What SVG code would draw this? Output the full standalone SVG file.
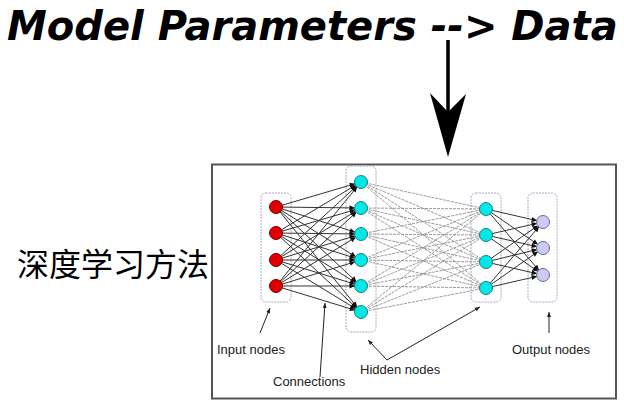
<svg xmlns="http://www.w3.org/2000/svg" width="624" height="416" viewBox="0 0 624 416">
<defs>
<style>
.title{font-family:"DejaVu Sans",sans-serif;font-weight:bold;font-style:italic;font-size:40px;fill:#000}
.cjk{font-family:"Noto Sans CJK SC","Noto Sans",sans-serif;font-size:32px;fill:#000}
.lbl{font-family:"Liberation Sans","Open Sans",sans-serif;font-size:13px;fill:#222}
.box{fill:none;stroke:#a8a8c8;stroke-width:1;stroke-dasharray:2 1}
.dark{stroke:#333;stroke-width:1}
.light{stroke:#8f8f8f;stroke-width:0.9;stroke-dasharray:3 1}
.inp{fill:#e00000;stroke:#7a0000;stroke-width:1}
.hid{fill:#00e8e8;stroke:#208080;stroke-width:1}
.out{fill:#ccccf2;stroke:#6a6a9a;stroke-width:1}
.ann{stroke:#222;stroke-width:1;fill:none}
</style>
<marker id="ah" markerUnits="userSpaceOnUse" markerWidth="14" markerHeight="8" refX="11.5" refY="2.5" orient="auto" overflow="visible"><path d="M0,0 L5.5,2.5 L0,5 z" fill="#111"/></marker>
<marker id="sm" markerUnits="userSpaceOnUse" markerWidth="8" markerHeight="8" refX="5" refY="2" orient="auto" overflow="visible"><path d="M0,0 L5,2 L0,4 z" fill="#222"/></marker>
<marker id="smr" markerUnits="userSpaceOnUse" markerWidth="8" markerHeight="8" refX="0" refY="2" orient="auto" overflow="visible"><path d="M5,0 L0,2 L5,4 z" fill="#222"/></marker>
</defs>
<rect width="624" height="416" fill="#fff"/>
<g id="title"><text class="title" x="7" y="40">Model Parameters --&gt; Data</text></g>
<g id="big-arrow">
<line x1="448" y1="40" x2="448" y2="112" stroke="#000" stroke-width="3.5"/>
<polygon points="430,93 448,157 466,94 448,112" fill="#000"/>
</g>
<g id="cjk-label"><text class="cjk" x="17" y="276">深度学习方法</text></g>
<g id="frame"><rect x="212" y="164.5" width="404" height="234" fill="#fff" stroke="#555" stroke-width="2"/></g>
<g id="groups">
<rect class="box" x="261" y="193" width="30" height="109" rx="5"/>
<rect class="box" x="346" y="166" width="30" height="166" rx="5"/>
<rect class="box" x="471" y="193" width="30" height="109" rx="5"/>
<rect class="box" x="528" y="193" width="29" height="109" rx="5"/>
</g>
<g id="connectors">
<g class="light">
<line x1="361" y1="182" x2="486" y2="209"/><line x1="361" y1="182" x2="486" y2="235"/><line x1="361" y1="182" x2="486" y2="262"/><line x1="361" y1="182" x2="486" y2="288"/>
<line x1="361" y1="208" x2="486" y2="209"/><line x1="361" y1="208" x2="486" y2="235"/><line x1="361" y1="208" x2="486" y2="262"/><line x1="361" y1="208" x2="486" y2="288"/>
<line x1="361" y1="234" x2="486" y2="209"/><line x1="361" y1="234" x2="486" y2="235"/><line x1="361" y1="234" x2="486" y2="262"/><line x1="361" y1="234" x2="486" y2="288"/>
<line x1="361" y1="260" x2="486" y2="209"/><line x1="361" y1="260" x2="486" y2="235"/><line x1="361" y1="260" x2="486" y2="262"/><line x1="361" y1="260" x2="486" y2="288"/>
<line x1="361" y1="286" x2="486" y2="209"/><line x1="361" y1="286" x2="486" y2="235"/><line x1="361" y1="286" x2="486" y2="262"/><line x1="361" y1="286" x2="486" y2="288"/>
<line x1="361" y1="312" x2="486" y2="209"/><line x1="361" y1="312" x2="486" y2="235"/><line x1="361" y1="312" x2="486" y2="262"/><line x1="361" y1="312" x2="486" y2="288"/>
</g>
<g class="dark" marker-end="url(#ah)">
<line x1="276" y1="207" x2="361" y2="182"/><line x1="276" y1="207" x2="361" y2="208"/><line x1="276" y1="207" x2="361" y2="234"/><line x1="276" y1="207" x2="361" y2="260"/><line x1="276" y1="207" x2="361" y2="286"/><line x1="276" y1="207" x2="361" y2="312"/>
<line x1="276" y1="233" x2="361" y2="182"/><line x1="276" y1="233" x2="361" y2="208"/><line x1="276" y1="233" x2="361" y2="234"/><line x1="276" y1="233" x2="361" y2="260"/><line x1="276" y1="233" x2="361" y2="286"/><line x1="276" y1="233" x2="361" y2="312"/>
<line x1="276" y1="260" x2="361" y2="182"/><line x1="276" y1="260" x2="361" y2="208"/><line x1="276" y1="260" x2="361" y2="234"/><line x1="276" y1="260" x2="361" y2="260"/><line x1="276" y1="260" x2="361" y2="286"/><line x1="276" y1="260" x2="361" y2="312"/>
<line x1="276" y1="286" x2="361" y2="182"/><line x1="276" y1="286" x2="361" y2="208"/><line x1="276" y1="286" x2="361" y2="234"/><line x1="276" y1="286" x2="361" y2="260"/><line x1="276" y1="286" x2="361" y2="286"/><line x1="276" y1="286" x2="361" y2="312"/>
<line x1="486" y1="209" x2="543" y2="222"/><line x1="486" y1="209" x2="543" y2="248"/><line x1="486" y1="209" x2="543" y2="275"/>
<line x1="486" y1="235" x2="543" y2="222"/><line x1="486" y1="235" x2="543" y2="248"/><line x1="486" y1="235" x2="543" y2="275"/>
<line x1="486" y1="262" x2="543" y2="222"/><line x1="486" y1="262" x2="543" y2="248"/><line x1="486" y1="262" x2="543" y2="275"/>
<line x1="486" y1="288" x2="543" y2="222"/><line x1="486" y1="288" x2="543" y2="248"/><line x1="486" y1="288" x2="543" y2="275"/>
</g>
<g class="ann">
<line x1="260" y1="333" x2="270" y2="308" marker-end="url(#sm)"/>
<line x1="320" y1="377" x2="325" y2="303" marker-end="url(#sm)"/>
<polyline points="368,340 387,360 480,307" marker-end="url(#sm)" marker-start="url(#smr)"/>
<line x1="549" y1="333" x2="549" y2="312" marker-end="url(#sm)"/>
</g>
</g>
<g id="input-nodes">
<circle class="inp" cx="276" cy="207" r="6.5"/><circle class="inp" cx="276" cy="233" r="6.5"/><circle class="inp" cx="276" cy="260" r="6.5"/><circle class="inp" cx="276" cy="286" r="6.5"/>
</g>
<g id="hidden-nodes-1">
<circle class="hid" cx="361" cy="182" r="6.5"/><circle class="hid" cx="361" cy="208" r="6.5"/><circle class="hid" cx="361" cy="234" r="6.5"/><circle class="hid" cx="361" cy="260" r="6.5"/><circle class="hid" cx="361" cy="286" r="6.5"/><circle class="hid" cx="361" cy="312" r="6.5"/>
</g>
<g id="hidden-nodes-2">
<circle class="hid" cx="486" cy="209" r="6.5"/><circle class="hid" cx="486" cy="235" r="6.5"/><circle class="hid" cx="486" cy="262" r="6.5"/><circle class="hid" cx="486" cy="288" r="6.5"/>
</g>
<g id="output-nodes">
<circle class="out" cx="543" cy="222" r="6.5"/><circle class="out" cx="543" cy="248" r="6.5"/><circle class="out" cx="543" cy="275" r="6.5"/>
</g>
<g id="labels">
<text class="lbl" x="217" y="354">Input nodes</text>
<text class="lbl" x="273" y="386">Connections</text>
<text class="lbl" x="360" y="374">Hidden nodes</text>
<text class="lbl" x="512" y="354">Output nodes</text>
</g>
</svg>
